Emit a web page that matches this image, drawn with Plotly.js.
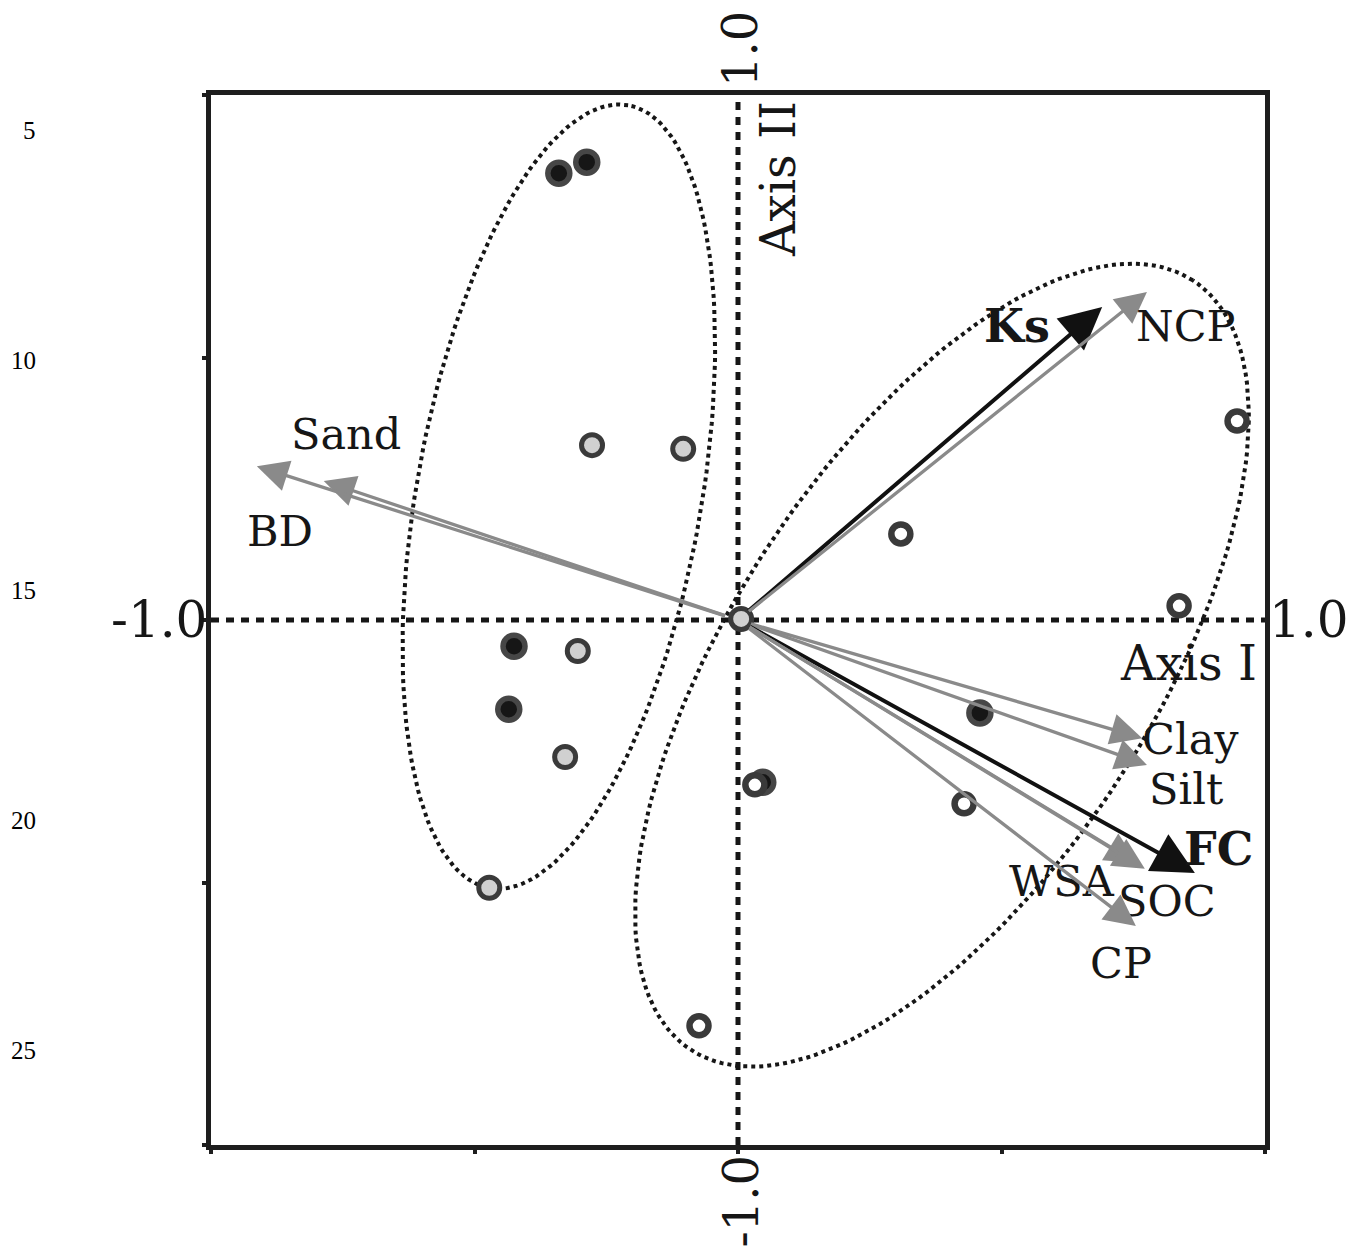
<!DOCTYPE html>
<html>
<head>
<meta charset="utf-8">
<script src="https://cdn.plot.ly/plotly-3.0.1.min.js"></script>
<style>
  body { margin: 0; background: #fff; }
  #plot { width: 1355px; height: 1254px; }
</style>
</head>
<body>
<div id="plot"></div>
<script>
// sample scores on axis I / axis II
var darkX = [-0.340, -0.287, -0.425, -0.435, 0.459, 0.047];
var darkY = [0.851, 0.872, -0.050, -0.170, -0.177, -0.309];
var lightX = [-0.277, -0.104, -0.304, -0.328, -0.472, 0.006];
var lightY = [0.333, 0.326, -0.059, -0.261, -0.510, 0.002];
var openX = [0.947, 0.309, 0.837, 0.429, 0.032, -0.074];
var openY = [0.379, 0.164, 0.027, -0.350, -0.314, -0.773];

// variable loadings (arrow tips)
var varNames = ['Ks', 'NCP', 'Sand', 'BD', 'Clay', 'Silt', 'FC', 'WSA', 'SOC', 'CP'];
var varX = [0.691, 0.776, -0.786, -0.913, 0.767, 0.776, 0.867, 0.757, 0.772, 0.755];
var varY = [0.596, 0.625, 0.265, 0.293, -0.225, -0.276, -0.482, -0.463, -0.474, -0.583];

// group ellipses: centre x, centre y, semi axes, tilt (deg)
var ellCx = [-0.340, 0.387];
var ellCy = [0.235, -0.086];
var ellA = [0.757, 0.874];
var ellB = [0.270, 0.400];
var ellAngle = [80, 57];

var lineNumbers = [5, 10, 15, 20, 25];

// label placement (data coords), separate from the data
var labelPos = {
  Ks: [0.529, 0.560], NCP: [0.850, 0.560], Sand: [-0.744, 0.354], BD: [-0.869, 0.170],
  Clay: [0.858, -0.226], Silt: [0.850, -0.322], FC: [0.911, -0.436],
  WSA: [0.615, -0.497], SOC: [0.814, -0.535], CP: [0.727, -0.653]
};
var boldVars = ['Ks', 'FC'];

var serif = 'DejaVu Serif, Liberation Serif, serif';
var ink = '#161616';

function ellipse(i) {
  var xs = [], ys = [];
  var t = ellAngle[i] * Math.PI / 180;
  for (var k = 0; k <= 200; k++) {
    var u = 2 * Math.PI * k / 200;
    var ex = ellA[i] * Math.cos(u), ey = ellB[i] * Math.sin(u);
    xs.push(ellCx[i] + ex * Math.cos(t) - ey * Math.sin(t));
    ys.push(ellCy[i] + ex * Math.sin(t) + ey * Math.cos(t));
  }
  return {x: xs, y: ys};
}

var traces = [];
for (var i = 0; i < ellCx.length; i++) {
  var e = ellipse(i);
  traces.push({x: e.x, y: e.y, mode: 'lines', type: 'scatter', hoverinfo: 'skip',
    line: {color: ink, width: 4, dash: 'dot'}});
}
// dotted axes through the origin
traces.push({x: [-1, 1], y: [0, 0], mode: 'lines', type: 'scatter', hoverinfo: 'skip',
  line: {color: ink, width: 5, dash: '8px,7px'}});
traces.push({x: [0, 0], y: [-1, 1], mode: 'lines', type: 'scatter', hoverinfo: 'skip',
  line: {color: ink, width: 5, dash: '8px,7px'}});

traces.push({x: darkX, y: darkY, mode: 'markers', type: 'scatter',
  marker: {size: 22, color: '#161616', line: {color: '#464646', width: 5.5}}});
traces.push({x: lightX, y: lightY, mode: 'markers', type: 'scatter',
  marker: {size: 21, color: '#d0d0d0', line: {color: '#3a3a3a', width: 5}}});
traces.push({x: openX, y: openY, mode: 'markers', type: 'scatter',
  marker: {size: 19, color: '#ffffff', line: {color: '#3a3a3a', width: 6.5}}});

var annotations = [];
for (var j = 0; j < varNames.length; j++) {
  var bold = boldVars.indexOf(varNames[j]) >= 0;
  annotations.push({
    x: varX[j], y: varY[j], ax: 0, ay: 0, xref: 'x', yref: 'y', axref: 'x', ayref: 'y',
    text: '', showarrow: true, arrowhead: 2,
    arrowsize: bold ? 2.1 : 1.9, arrowwidth: bold ? 4 : 3.3,
    arrowcolor: bold ? '#111111' : '#8a8a8a', startstandoff: 12
  });
  var p = labelPos[varNames[j]];
  annotations.push({
    x: p[0], y: p[1], xref: 'x', yref: 'y', showarrow: false,
    text: bold ? '<b>' + varNames[j] + '</b>' : varNames[j],
    font: {family: serif, size: bold ? 46 : 43, color: ink}
  });
}

// axis labels and end values
annotations.push({x: 0.854, y: -0.082, xref: 'x', yref: 'y', showarrow: false, text: 'Axis I',
  font: {family: serif, size: 48, color: ink}});
annotations.push({x: 0.076, y: 0.840, xref: 'x', yref: 'y', showarrow: false, text: 'Axis II',
  textangle: -90, font: {family: serif, size: 48, color: ink}});
annotations.push({x: 0.004, y: 1, xref: 'x', yref: 'paper', yanchor: 'bottom', yshift: 6,
  showarrow: false, text: '1.0', textangle: -90, font: {family: serif, size: 48, color: ink}});
annotations.push({x: 0.004, y: 0, xref: 'x', yref: 'paper', yanchor: 'top', yshift: -8,
  showarrow: false, text: '-1.0', textangle: -90, font: {family: serif, size: 48, color: ink}});
annotations.push({x: 0, y: 0, xref: 'paper', yref: 'y', xanchor: 'right', xshift: -2,
  showarrow: false, text: '-1.0', font: {family: serif, size: 50, color: ink}});
annotations.push({x: 1, y: 0, xref: 'paper', yref: 'y', xanchor: 'left', xshift: 2,
  showarrow: false, text: '1.0', font: {family: serif, size: 50, color: ink}});

// manuscript line numbers in the left margin
for (var n = 0; n < lineNumbers.length; n++) {
  annotations.push({x: 0, y: 1, xref: 'paper', yref: 'paper', xanchor: 'right', yanchor: 'middle',
    xshift: -173, yshift: -35 - 230 * n, showarrow: false, text: String(lineNumbers[n]),
    font: {family: 'Liberation Serif, serif', size: 25, color: '#000'}});
}

var axisStyle = {
  range: [-1, 1], showgrid: false, zeroline: false, showticklabels: false,
  showline: true, linecolor: '#1e1e1e', linewidth: 5, mirror: true,
  ticks: 'outside', ticklen: 4, tickwidth: 4, tickcolor: '#1e1e1e',
  tickvals: [-1, -0.5, 0, 0.5, 1], fixedrange: true
};

Plotly.newPlot('plot', traces, {
  width: 1355, height: 1254,
  margin: {l: 211, r: 90, t: 95, b: 109},
  showlegend: false,
  paper_bgcolor: '#ffffff', plot_bgcolor: '#ffffff',
  xaxis: axisStyle,
  yaxis: axisStyle,
  annotations: annotations
}, {staticPlot: true});
</script>
</body>
</html>
